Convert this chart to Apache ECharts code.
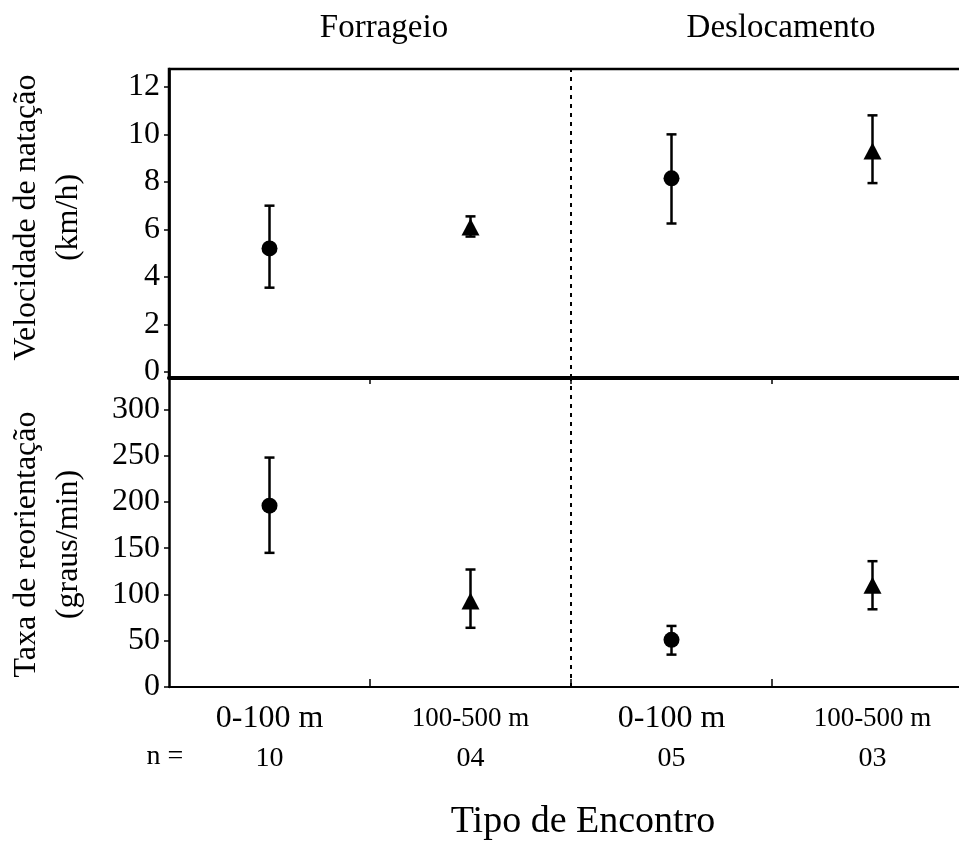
<!DOCTYPE html>
<html>
<head>
<meta charset="utf-8">
<script src="https://cdn.jsdelivr.net/npm/echarts@6/dist/echarts.min.js"></script>
<style>
html,body{margin:0;padding:0;background:#fff;}
#chart{width:959px;height:846px;}
</style>
</head>
<body>
<div id="chart"></div>
<script>
// ---- data ----
const categories = ['0-100 m', '100-500 m', '0-100 m', '100-500 m'];
const nValues = ['10', '04', '05', '03'];
const groupTitles = ['Forrageio', 'Deslocamento'];
const symbols = ['circle', 'triangle', 'circle', 'triangle'];

const speedMean = [5.2, 6.1, 8.15, 9.3];
const speedLow  = [3.55, 5.7, 6.25, 7.95];
const speedHigh = [7.0, 6.55, 10.0, 10.8];

const reorMean = [196, 93, 51, 110];
const reorLow  = [145, 64, 35, 84];
const reorHigh = [248, 127, 66, 136];

const speedTicks = [0, 2, 4, 6, 8, 10, 12];
const reorTicks = [0, 50, 100, 150, 200, 250, 300];
const groupDivider = 2; // boundary between the two groups (category index)

// ---- chart ----
const FONT = '"Liberation Serif", "Times New Roman", serif';
const xPos = categories.map((_, i) => i + 0.5);
const boundaries = [1, 2, 3];

function errData(low, high) {
  return xPos.map((x, i) => [x, low[i], high[i]]);
}
function pointData(mean) {
  return xPos.map((x, i) => ({
    value: [x, mean[i]],
    symbol: symbols[i],
    symbolSize: symbols[i] === 'circle' ? 16 : [18, 17]
  }));
}
function renderErr(params, api) {
  const x = api.value(0);
  const p1 = api.coord([x, api.value(2)]);
  const p2 = api.coord([x, api.value(1)]);
  const w = 5;
  const st = { stroke: '#000', lineWidth: 2.5 };
  return {
    type: 'group',
    children: [
      { type: 'line', shape: { x1: p1[0], y1: p1[1], x2: p2[0], y2: p2[1] }, style: st },
      { type: 'line', shape: { x1: p1[0] - w, y1: p1[1], x2: p1[0] + w, y2: p1[1] }, style: st },
      { type: 'line', shape: { x1: p2[0] - w, y1: p2[1], x2: p2[0] + w, y2: p2[1] }, style: st }
    ]
  };
}
const dividerLine = {
  silent: true,
  symbol: ['none', 'none'],
  label: { show: false },
  lineStyle: { color: '#000', type: [4, 5], width: 2, opacity: 1 },
  emphasis: { disabled: true },
  data: [{ xAxis: groupDivider }]
};

const chart = echarts.init(document.getElementById('chart'), null, { renderer: 'canvas' });

const option = {
  backgroundColor: '#fff',
  animation: false,
  textStyle: { fontFamily: FONT, color: '#000' },
  grid: [
    { left: 169, top: 69, right: -14, height: 309, outerBoundsMode: 'none', containLabel: false, show: true, borderColor: '#000', borderWidth: 2.5, backgroundColor: 'transparent' },
    { left: 169, top: 378, right: -14, height: 309, outerBoundsMode: 'none', containLabel: false }
  ],
  xAxis: [
    {
      type: 'value', gridIndex: 0, min: 0, max: 4,
      axisLine: { show: true, onZero: false, lineStyle: { color: '#000', width: 4 } },
      axisTick: { show: true, customValues: boundaries, length: 6, lineStyle: { color: '#000', width: 1.5 } },
      axisLabel: { show: false },
      splitLine: { show: false }
    },
    {
      type: 'value', gridIndex: 1, min: 0, max: 4,
      axisLine: { show: true, onZero: false, lineStyle: { color: '#000', width: 2 } },
      axisTick: { show: true, inside: true, customValues: boundaries, length: 8, lineStyle: { color: '#000', width: 1.5 } },
      axisLabel: {
        show: true,
        customValues: xPos,
        margin: 12,
        formatter: function (v) {
          const i = Math.floor(v);
          const st = categories[i].length > 8 ? 'c2' : 'c';
          return '{' + st + '|' + categories[i] + '}\n{n|' + nValues[i] + '}';
        },
        rich: {
          c: { fontFamily: FONT, fontSize: 32, lineHeight: 40, color: '#000' },
          c2: { fontFamily: FONT, fontSize: 27, lineHeight: 40, color: '#000' },
          n: { fontFamily: FONT, fontSize: 28, lineHeight: 40, color: '#000' }
        }
      },
      splitLine: { show: false }
    }
  ],
  yAxis: [
    {
      type: 'value', gridIndex: 0, min: -0.25, max: 12.75,
      name: 'Velocidade de natação\n(km/h)',
      nameLocation: 'middle', nameRotate: 90, nameGap: 79,
      nameTextStyle: { fontFamily: FONT, fontSize: 32, lineHeight: 42, color: '#000', padding: [0, 0, 0, 12] },
      axisLine: { show: true, lineStyle: { color: '#000', width: 2.7 } },
      axisTick: { show: true, customValues: speedTicks, length: 5, lineStyle: { color: '#000', width: 1.5 } },
      axisLabel: { customValues: speedTicks, margin: 9, fontFamily: FONT, fontSize: 32, color: '#000' },
      splitLine: { show: false }
    },
    {
      type: 'value', gridIndex: 1, min: 0, max: 334,
      name: 'Taxa de reorientação\n(graus/min)',
      nameLocation: 'middle', nameRotate: 90, nameGap: 79,
      nameTextStyle: { fontFamily: FONT, fontSize: 32, lineHeight: 42, color: '#000', padding: [0, 24, 0, 0] },
      axisLine: { show: true, lineStyle: { color: '#000', width: 2.5 } },
      axisTick: { show: true, customValues: reorTicks, length: 5, lineStyle: { color: '#000', width: 1.5 } },
      axisLabel: { customValues: reorTicks, margin: 9, fontFamily: FONT, fontSize: 32, color: '#000' },
      splitLine: { show: false }
    }
  ],
  graphic: [
    { type: 'text', x: 384, y: 28, style: { text: groupTitles[0], font: '33px ' + FONT, fill: '#000', textAlign: 'center', textVerticalAlign: 'middle' } },
    { type: 'text', x: 781, y: 28, style: { text: groupTitles[1], font: '33px ' + FONT, fill: '#000', textAlign: 'center', textVerticalAlign: 'middle' } },
    { type: 'text', x: 165, y: 757, style: { text: 'n =', font: '28px ' + FONT, fill: '#000', textAlign: 'center', textVerticalAlign: 'middle' } },
    { type: 'text', x: 583, y: 822, style: { text: 'Tipo de Encontro', font: '38px ' + FONT, fill: '#000', textAlign: 'center', textVerticalAlign: 'middle' } }
  ],
  series: [
    { type: 'custom', xAxisIndex: 0, yAxisIndex: 0, renderItem: renderErr, data: errData(speedLow, speedHigh), encode: { x: 0, y: [1, 2] }, z: 2, markLine: dividerLine },
    { type: 'scatter', xAxisIndex: 0, yAxisIndex: 0, data: pointData(speedMean), itemStyle: { color: '#000', opacity: 1 }, z: 3 },
    { type: 'custom', xAxisIndex: 1, yAxisIndex: 1, renderItem: renderErr, data: errData(reorLow, reorHigh), encode: { x: 0, y: [1, 2] }, z: 2, markLine: dividerLine },
    { type: 'scatter', xAxisIndex: 1, yAxisIndex: 1, data: pointData(reorMean), itemStyle: { color: '#000', opacity: 1 }, z: 3 }
  ]
};
chart.setOption(option);
</script>
</body>
</html>
